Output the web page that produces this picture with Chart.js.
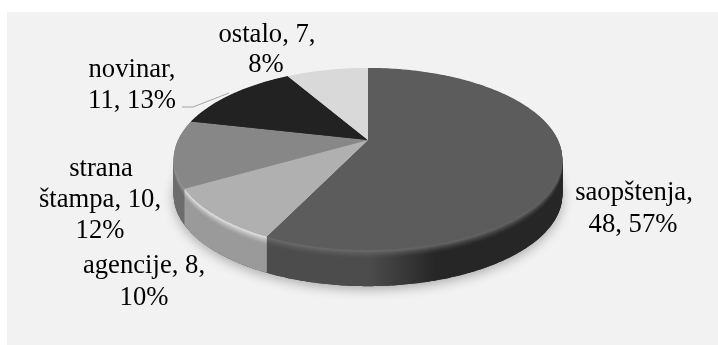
<!DOCTYPE html>
<html lang="en">
<head>
  <meta charset="UTF-8">
  <title>Pie</title>
  <style>
    body, html { margin:0; padding:0; overflow:hidden; background:#fff; }
    canvas#chart { display:block; }
  </style>
</head>
<body>
  <canvas id="chart" width="718" height="345"></canvas>

  <script src="https://cdn.jsdelivr.net/npm/chart.js"></script>
  <script>
    const categories = ['saopštenja', 'agencije', 'strana štampa', 'novinar', 'ostalo'];
    const values = [48, 8, 10, 11, 7];
    const topColors = ['#5c5c5c', '#b0b0b0', '#878787', '#222222', '#d9d9d9'];
    // rim highlight, then side colour left and right
    const rimColors = ['#6c6c6c', '#e6e6e6', '#9c9c9c', '#333333', '#e4e4e4'];
    const sideLeft = ['#4c4c4c', '#9a9a9a', '#6c6c6c', '#1c1c1c', '#a8a8a8'];
    const sideRight = ['#262626', '#8c8c8c', '#7c7c7c', '#1c1c1c', '#a8a8a8'];

    const labelLines = [
      ['saopštenja,', '48, 57%'],
      ['agencije, 8,', '10%'],
      ['strana', 'štampa, 10,', '12%'],
      ['novinar,', '11, 13%'],
      ['ostalo, 7,', '8%']
    ];
    const labelX = [[634, 633], [144, 144], [101, 100, 100], [132, 132], [267, 266]];
    const labelY = [[200, 232], [273, 305], [176, 207, 238], [77, 108], [42, 72]];

    const squash = 0.4586, persp = 0.209, depth = 36;

    function project(arc, a, d) {
      const t = a + Math.PI / 2;
      const w = 1 + persp * Math.cos(t);
      return [arc.x + arc.outerRadius * Math.sin(t) / w,
              arc.y - arc.outerRadius * squash * Math.cos(t) / w + d];
    }

    function slicePath(c, arc, d) {
      c.beginPath();
      c.moveTo(arc.x, arc.y + d);
      const n = Math.ceil((arc.endAngle - arc.startAngle) * 90);
      for (let i = 0; i <= n; i++) {
        const p = project(arc, arc.startAngle + (arc.endAngle - arc.startAngle) * i / n, d);
        c.lineTo(p[0], p[1]);
      }
      c.closePath();
    }

    function mix(a, b, f) {
      const pa = parseInt(a.slice(1), 16), pb = parseInt(b.slice(1), 16);
      const ch = s => Math.round(((pa >> s) & 255) * (1 - f) + ((pb >> s) & 255) * f);
      return `rgb(${ch(16)},${ch(8)},${ch(0)})`;
    }

    const pie3d = {
      id: 'pie3d',
      beforeDraw(chart) {
        const c = chart.ctx;
        c.fillStyle = '#fff';
        c.fillRect(0, 0, 718, 345);
        c.fillStyle = '#f2f2f2';
        c.fillRect(7, 12, 711, 333);
      },
      beforeDatasetDraw(chart) {
        const c = chart.ctx, arcs = chart.getDatasetMeta(0).data;
        const cx = arcs[0].x, r = arcs[0].outerRadius;

        // soft shadow below the pie
        c.save();
        c.shadowColor = 'rgba(0,0,0,0.3)';
        c.shadowBlur = 12;
        c.shadowOffsetY = 3;
        c.fillStyle = '#444';
        arcs.forEach(arc => { slicePath(c, arc, depth); c.fill(); });
        c.restore();

        // side wall, painted from the bottom layer upward
        for (let d = depth; d > 0; d -= 0.5) {
          arcs.forEach((arc, i) => {
            const f = d < 9 ? Math.pow(1 - d / 9, 1.5) : 0;
            const g = c.createLinearGradient(cx - r, 0, cx + r, 0);
            g.addColorStop(0, mix(sideLeft[i], rimColors[i], f));
            g.addColorStop(0.5, mix(sideLeft[i], rimColors[i], f));
            g.addColorStop(0.68, mix(sideRight[i], rimColors[i], f));
            g.addColorStop(1, mix(sideRight[i], rimColors[i], f));
            c.fillStyle = g;
            slicePath(c, arc, d);
            c.fill();
          });
        }

        // top face
        arcs.forEach((arc, i) => {
          c.fillStyle = topColors[i];
          slicePath(c, arc, 0);
          c.fill();
        });
        return false;
      },
      afterDraw(chart) {
        const c = chart.ctx;
        // leader line of the novinar label
        c.strokeStyle = '#a6a6a6';
        c.lineWidth = 1;
        c.beginPath();
        c.moveTo(182, 107);
        c.lineTo(193, 107);
        c.lineTo(229, 93);
        c.stroke();

        c.fillStyle = '#000';
        c.font = '26.67px "Liberation Serif"';
        c.textAlign = 'center';
        c.textBaseline = 'alphabetic';
        labelLines.forEach((lines, i) => {
          lines.forEach((s, j) => c.fillText(s, labelX[i][j], labelY[i][j]));
        });
      }
    };

    new Chart(document.getElementById('chart').getContext('2d'), {
      type: 'pie',
      data: {
        labels: categories,
        datasets: [{ data: values, backgroundColor: topColors, borderWidth: 0, radius: 190 }]
      },
      options: {
        responsive: false,
        animation: false,
        layout: { padding: { left: 18, right: 0, top: 0, bottom: 65 } },
        plugins: { legend: { display: false }, tooltip: { enabled: false } }
      },
      plugins: [pie3d]
    });
  </script>
</body>
</html>
